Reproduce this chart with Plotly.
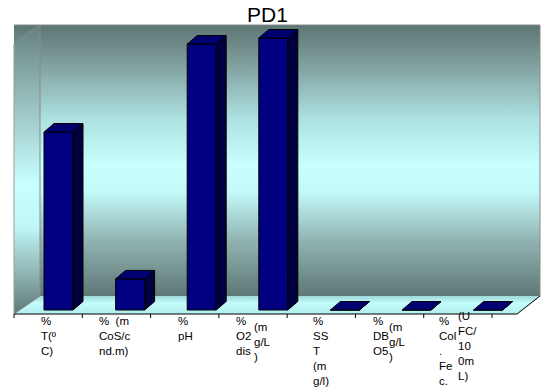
import plotly.graph_objects as go

# ---------------- data ----------------
CATEGORIES = ["% T(ºC)", "% CoS/cnd (m)", "% pH", "% O2 dis (mg/L)",
              "% SST (mg/l)", "% DBO5 (mg/L)", "% Col. Fec. (UFC/100mL)"]
VALUES = [64.7, 11.3, 96.7, 98.9, 0, 0, 0]
LABEL_MAIN = ["%<br>T(º<br>C)", "%  (m<br>CoS/c<br>nd.m)", "%<br>pH", "%<br>O2<br>dis",
              "%<br>SS<br>T<br>(m<br>g/l)", "%<br>DB<br>O5", "%<br>Col<br>.<br>Fe<br>c."]
LABEL_UNIT = ["", "", "", "(m<br>g/L<br>)", "", "(m<br>g/L<br>)", "(U<br>FC/<br>10<br>0m<br>L)"]
TITLE = "PD1"

# ---------------- layout constants (pixels) ----------------
W, H = 548, 391
X0, SX = 58.5, 71.6          # pixel of category 0 centre, pixels per category
Y0, SY = 310.0, 2.75         # pixel of value 0, pixels per value unit
BAR_W = 29 / SX
DX, DY = 10 / SX, 8.5 / SY   # 3-D depth offsets in data units

WALL_TOP, WALL_L, WALL_R = 25, 40, 540
FLOOR_BACK, FLOOR_FRONT = 296, 314
SIDE_L, FLOOR_FR_R = 14, 517
FONT = "Liberation Sans, Arial, sans-serif"

fig = go.Figure()

def deco(xs, ys, **kw):
    fig.add_trace(go.Scatter(x=xs, y=ys, xaxis="x", yaxis="y", mode="lines",
                             hoverinfo="skip", showlegend=False, **kw))

wall_scale = [[0, "#5c7674"], [0.12, "#7a9896"], [0.35, "#aee2e2"], [0.52, "#c8ffff"],
              [0.62, "#c2f8f8"], [0.8, "#8fb2b0"], [1, "#5e7876"]]
# background / back wall
deco([SIDE_L, WALL_R, WALL_R, FLOOR_FR_R, SIDE_L, SIDE_L],
     [WALL_TOP, WALL_TOP, FLOOR_BACK, FLOOR_FRONT, FLOOR_FRONT, WALL_TOP],
     fill="toself", line=dict(width=0),
     fillgradient=dict(type="vertical", start=WALL_TOP, stop=FLOOR_BACK, colorscale=wall_scale))
# side wall
side_scale = [[0, "#62807e"], [0.2, "#8cb0ae"], [0.55, "#c8ffff"], [0.7, "#bff6f6"],
              [0.88, "#88acaa"], [1, "#5e7876"]]
deco([SIDE_L, WALL_L, WALL_L, SIDE_L, SIDE_L],
     [43, WALL_TOP, FLOOR_BACK, FLOOR_FRONT, 43],
     fill="toself", line=dict(width=0),
     fillgradient=dict(type="vertical", start=WALL_TOP, stop=FLOOR_FRONT, colorscale=side_scale))
# floor
deco([WALL_L, WALL_R, FLOOR_FR_R, SIDE_L, WALL_L],
     [FLOOR_BACK, FLOOR_BACK, FLOOR_FRONT, FLOOR_FRONT, FLOOR_BACK],
     fill="toself", line=dict(width=0),
     fillgradient=dict(type="vertical", start=FLOOR_BACK, stop=FLOOR_FRONT,
                       colorscale=[[0, "#9ed8d8"], [0.4, "#c4fcfc"], [1, "#b2eeee"]]))
# wall edges
gray = dict(color="#8a8a8a", width=1)
deco([SIDE_L, WALL_R, WALL_R], [WALL_TOP, WALL_TOP, FLOOR_BACK], line=gray)
deco([SIDE_L, WALL_L, WALL_L, SIDE_L], [43, WALL_TOP, FLOOR_BACK, FLOOR_FRONT], line=gray)
deco([SIDE_L, SIDE_L], [43, FLOOR_FRONT], line=dict(color="#9a9a9a", width=1))
# category axis line and ticks
deco([SIDE_L, FLOOR_FR_R, WALL_R], [FLOOR_FRONT, FLOOR_FRONT, FLOOR_BACK],
     line=dict(color="#000000", width=1))
tx, ty = [], []
for k in range(len(CATEGORIES) + 1):
    p = SIDE_L + k * 478 / len(CATEGORIES)
    tx += [p, p, None]
    ty += [FLOOR_FRONT, FLOOR_FRONT + 4, None]
deco(tx, ty, line=dict(color="#000000", width=1))

# ---------------- bars (data axes) ----------------
xs = list(range(len(CATEGORIES)))
fig.add_trace(go.Bar(x=xs, y=VALUES, width=BAR_W, xaxis="x2", yaxis="y2",
                     marker=dict(color="#000080", line=dict(color="#000000", width=1)),
                     hoverinfo="skip", showlegend=False))
top_x, top_y, side_x, side_y = [], [], [], []
for x, v in zip(xs, VALUES):
    l, r = x - BAR_W / 2, x + BAR_W / 2
    top_x += [l, r, r + DX, l + DX, l, None]
    top_y += [v, v, v + DY, v + DY, v, None]
    side_x += [r, r + DX, r + DX, r, r, None]
    side_y += [0, DY, v + DY, v, 0, None]
fig.add_trace(go.Scatter(x=side_x, y=side_y, xaxis="x2", yaxis="y2", mode="lines",
                         fill="toself", fillcolor="#00003e",
                         line=dict(color="#000000", width=1),
                         hoverinfo="skip", showlegend=False))
fig.add_trace(go.Scatter(x=top_x, y=top_y, xaxis="x2", yaxis="y2", mode="lines",
                         fill="toself", fillcolor="#000070",
                         line=dict(color="#000000", width=1),
                         hoverinfo="skip", showlegend=False))

# ---------------- labels ----------------
MAIN_POS = [(39, 313), (97, 313), (176, 313), (234, 313), (311, 313), (371, 313), (437, 313)]
UNIT_POS = [None, None, None, (252, 319), None, (387, 319), (456, 308)]
LBL_SIZE = 11.5
ann = []
for i, txt in enumerate(LABEL_MAIN):
    px, py = MAIN_POS[i]
    ann.append(dict(x=px / W, y=1 - py / H, xref="paper", yref="paper", text=txt,
                    showarrow=False, xanchor="left", yanchor="top", align="left",
                    font=dict(family=FONT, size=LBL_SIZE, color="#000000")))
    if LABEL_UNIT[i]:
        ux, uy = UNIT_POS[i]
        ann.append(dict(x=ux / W, y=1 - uy / H, xref="paper", yref="paper", text=LABEL_UNIT[i],
                        showarrow=False, xanchor="left", yanchor="top", align="left",
                        font=dict(family=FONT, size=LBL_SIZE, color="#000000")))
ann.append(dict(x=267 / W, y=1 - 15 / H, xref="paper", yref="paper", text=TITLE,
                showarrow=False, xanchor="center", yanchor="middle",
                font=dict(family=FONT, size=21, color="#000000")))

fig.update_layout(
    width=W, height=H, margin=dict(l=0, r=0, t=0, b=0),
    paper_bgcolor="#ffffff", plot_bgcolor="rgba(0,0,0,0)",
    showlegend=False, annotations=ann, barmode="overlay",
    xaxis=dict(range=[0, W], visible=False, fixedrange=True),
    yaxis=dict(range=[H, 0], visible=False, fixedrange=True),
    xaxis2=dict(range=[-X0 / SX, (W - X0) / SX], overlaying="x", visible=False, fixedrange=True),
    yaxis2=dict(range=[(Y0 - H) / SY, Y0 / SY], overlaying="y", visible=False, fixedrange=True),
)
fig.write_html("out.html", config={"displayModeBar": False})
